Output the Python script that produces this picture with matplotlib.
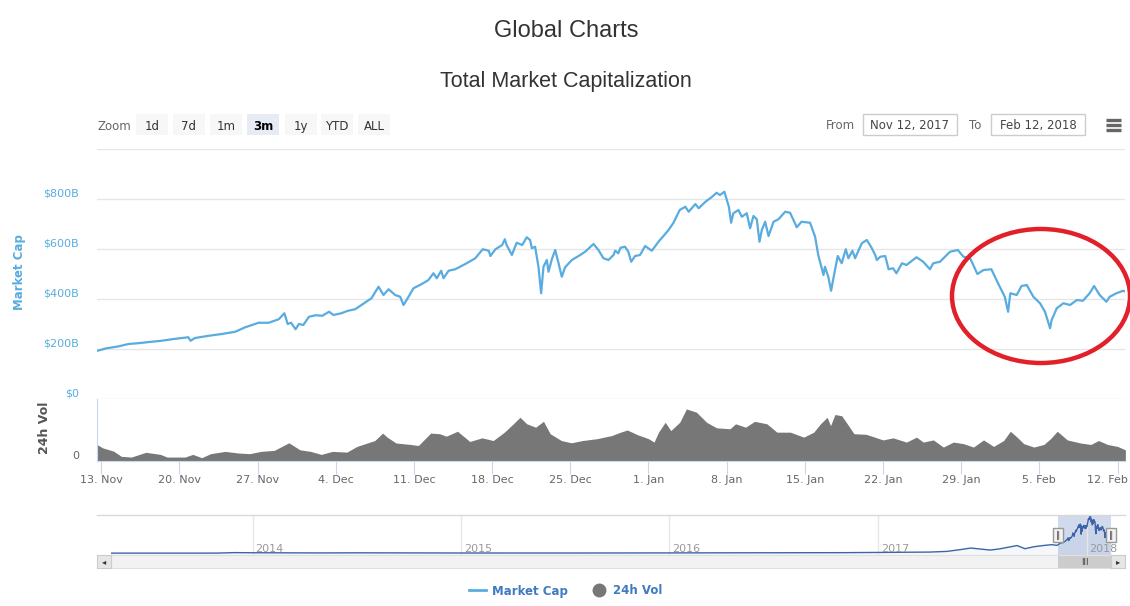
import matplotlib
matplotlib.use("Agg")
import matplotlib.pyplot as plt
import matplotlib.dates as mdates
from matplotlib.patches import Ellipse, Rectangle
from matplotlib.lines import Line2D
from matplotlib.transforms import blended_transform_factory, ScaledTranslation
import numpy as np
import pandas as pd

plt.rcParams["font.family"] = ["DejaVu Sans"]

# --- data ------------------------------------------------------------------
# market cap, $B, x = days since 13 Nov 2017
cap_days = [-0.35, 0.5, 1.5, 2.45, 3.5, 4.5, 5.42, 6.5, 7.8, 8.0,
            8.4, 9.5, 10.8, 12.0, 12.9, 14.1, 15.0, 15.9, 16.4, 16.7,
            17.0, 17.4, 17.7, 18.1, 18.6, 19.2, 19.8, 20.4, 20.8, 21.5,
            22.1, 22.74, 23.3, 24.2, 24.83, 25.28, 25.73, 26.32, 26.77, 27.07,
            27.52, 27.96, 28.71, 29.3, 29.75, 30.05, 30.44, 30.65, 31.1, 31.7,
            32.6, 33.5, 34.16, 34.7, 34.85, 35.3, 35.9, 36.14, 36.3, 36.77,
            37.2, 37.7, 38.1, 38.4, 38.56, 38.85, 39.15, 39.39, 39.6, 39.9,
            40.05, 40.35, 40.65, 40.95, 41.24, 41.54, 42.14, 42.74, 43.33, 44.08,
            44.52, 44.97, 45.42, 45.87, 46.02, 46.3, 46.5, 46.9, 47.2, 47.45,
            47.8, 48.25, 48.7, 49.3, 49.9, 50.8, 51.24, 51.8, 52.3, 52.6,
            53.2, 53.5, 54.1, 54.7, 55.1, 55.4, 55.8, 56.2, 56.4, 56.6,
            57.06, 57.36, 57.8, 58.1, 58.4, 58.7, 58.94, 59.15, 59.45, 59.75,
            60.2, 60.64, 61.24, 61.68, 62.28, 62.7, 63.47, 63.92, 64.2, 64.67,
            64.8, 65.1, 65.35, 65.7, 65.95, 66.3, 66.67, 66.9, 67.26, 67.5,
            68.1, 68.55, 69.0, 69.3, 69.45, 69.75, 70.2, 70.5, 70.9, 71.2,
            71.7, 72.1, 73.0, 73.6, 74.2, 74.5, 75.1, 76.0, 76.7, 77.2,
            77.8, 78.45, 79.0, 79.7, 80.3, 80.9, 81.2, 81.4, 81.97, 82.4,
            82.87, 83.46, 84.06, 84.5, 84.96, 85.1, 85.56, 86.15, 86.75, 87.35,
            87.9, 88.5, 88.9, 89.4, 90.0, 90.3, 90.9, 91.5, 91.67]
cap_vals = [193, 203, 210, 220, 224, 229, 233, 240, 247, 233,
            244, 252, 260, 269, 287, 305, 305, 319, 343, 300,
            305, 279, 300, 296, 329, 335, 333, 349, 336, 343,
            353, 359, 376, 403, 449, 416, 439, 416, 409, 376,
            409, 443, 460, 476, 503, 483, 513, 483, 513, 519,
            540, 563, 599, 593, 572, 599, 616, 639, 616, 576,
            625, 616, 647, 636, 603, 609, 529, 423, 529, 556,
            509, 559, 596, 543, 489, 527, 556, 572, 589, 620,
            596, 563, 556, 576, 593, 583, 605, 609, 589, 549,
            572, 576, 612, 593, 629, 676, 705, 756, 769, 749,
            780, 763, 789, 809, 825, 816, 829, 769, 705, 743,
            756, 729, 743, 683, 732, 719, 629, 676, 709, 652,
            709, 719, 749, 745, 687, 709, 705, 649, 576, 496,
            529, 489, 433, 516, 572, 543, 599, 563, 593, 563,
            623, 636, 603, 576, 556, 569, 572, 519, 523, 503,
            543, 536, 567, 549, 519, 543, 549, 589, 596, 569,
            563, 500, 516, 519, 463, 409, 349, 423, 416, 452,
            456, 409, 383, 349, 283, 316, 363, 383, 376, 396,
            393, 423, 452, 416, 389, 409, 423, 433, 430]

# 24h volume, $B
vol_days = [-0.4, 0.16, 1.1, 1.8, 2.7, 4.0, 5.3, 5.9, 7.5, 8.2,
            9.0, 9.8, 11.1, 12.3, 13.3, 14.3, 15.5, 16.8, 17.8, 18.75,
            19.7, 20.7, 22.0, 22.9, 24.5, 25.2, 25.6, 26.4, 27.7, 28.4,
            29.5, 30.3, 30.9, 31.9, 33.0, 34.1, 35.1, 36.1, 36.9, 37.5,
            38.1, 38.9, 39.6, 40.2, 41.2, 42.1, 43.1, 44.4, 45.7, 46.5,
            47.1, 48.0, 49.0, 49.5, 49.9, 50.5, 51.0, 51.8, 52.4, 53.3,
            54.2, 55.1, 56.3, 56.8, 57.7, 58.5, 59.6, 60.5, 61.7, 62.9,
            63.8, 64.4, 65.0, 65.3, 65.7, 66.3, 66.8, 67.4, 68.5, 70.0,
            70.9, 72.1, 73.0, 73.6, 74.5, 75.4, 76.3, 77.2, 78.1, 79.0,
            79.9, 80.8, 81.4, 82.0, 82.6, 83.5, 84.4, 85.0, 85.6, 86.5,
            87.7, 88.6, 89.3, 90.1, 91.0, 91.7]
vol_vals = [16, 12.6, 9.6, 4.5, 3.8, 8.4, 6.4, 3.8, 3.8, 6.4,
            3.2, 7.1, 9.3, 7.7, 7.1, 9.3, 10.3, 17.6, 10.8, 9.3,
            6.4, 9.3, 8.6, 14.1, 19.8, 27, 23.1, 17.4, 16, 15,
            27, 26.4, 24, 28.8, 18.9, 22.4, 19.8, 27.9, 36, 42.3,
            36, 32.7, 38.4, 26.4, 19.8, 17.6, 19.8, 21.6, 24.6, 27.9,
            30, 25.5, 21.6, 18.3, 27.9, 37.5, 29.4, 37.5, 50.4, 47.2,
            37.5, 32.1, 31.2, 36, 32.7, 38.4, 36, 27.9, 27.9, 23.1,
            27.9, 36, 42.3, 34.2, 45, 43.8, 36, 26.4, 25.8, 20.4,
            22.4, 18.3, 23.1, 18.3, 20.4, 13.5, 18.3, 16.8, 13.5, 20.4,
            14.1, 19.8, 28.8, 23.1, 16.8, 13.5, 16, 21.6, 28.8, 20.4,
            17.4, 16, 19.8, 16, 14.1, 10.8]

# navigator history before the selected range, $B
hist_dates = ["2013-04-28", "2013-06-01", "2013-08-01", "2013-10-01", "2013-11-01",
              "2013-12-01", "2014-01-01", "2014-03-01", "2014-05-01", "2014-07-01",
              "2014-09-01", "2014-11-01", "2015-01-01", "2015-03-01", "2015-05-01",
              "2015-07-01", "2015-09-01", "2015-11-01", "2016-01-01", "2016-03-01",
              "2016-05-01", "2016-07-01", "2016-09-01", "2016-11-01", "2017-01-01",
              "2017-03-01", "2017-04-01", "2017-05-01", "2017-05-25", "2017-06-12",
              "2017-07-16", "2017-08-01", "2017-09-01", "2017-09-15", "2017-10-01",
              "2017-10-20", "2017-11-01", "2017-11-10"]
hist_caps = [1.6, 1.3, 1.2, 1.6, 2.6, 13, 10, 8, 6, 8.5,
             6.5, 4.5, 4.5, 3.6, 3.4, 3.9, 3.7, 5.6, 6.9, 7.5,
             7.8, 11, 10.5, 12, 17.7, 22, 25, 40, 80, 115,
             70, 95, 170, 100, 145, 175, 190, 175]

nav_years = [2014, 2015, 2016, 2017, 2018]
zoom_buttons = ["1d", "7d", "1m", "3m", "1y", "YTD", "ALL"]
selected_button = "3m"
range_from, range_to = "Nov 12, 2017", "Feb 12, 2018"

# --- setup -----------------------------------------------------------------
W, H = 1130, 606
LINE = "#58acdf"
start = pd.Timestamp("2017-11-13")
x0 = pd.Timestamp("2017-11-12 15:00")
x1 = pd.Timestamp("2018-02-12 16:00")

cap_t = start + pd.to_timedelta(np.array(cap_days), unit="D")
vol_t = start + pd.to_timedelta(np.array(vol_days), unit="D")


def box(l, t, r, b):
    return [l / W, 1 - b / H, (r - l) / W, (b - t) / H]


fig = plt.figure(figsize=(W / 100, H / 100), dpi=100)

# main panel
ax = fig.add_axes(box(97, 149, 1125, 399))
ax.plot(cap_t, cap_vals, color=LINE, lw=1.6, solid_joinstyle="round")
ax.set_xlim(x0, x1)
ax.set_ylim(0, 1000)
ax.set_yticks(range(0, 1001, 200))
ax.set_yticklabels(["$0", "$200B", "$400B", "$600B", "$800B", ""])
ax.grid(axis="y", color="#e6e6e6", lw=1)
ax.set_axisbelow(True)
ax.set_xticks([])
for s in ax.spines.values():
    s.set_visible(False)
ax.tick_params(axis="y", length=0, pad=13, labelcolor=LINE, labelsize=8)
for lbl in ax.get_yticklabels():
    lbl.set_verticalalignment("bottom")
fig.text(20 / W, 1 - 272 / H, "Market Cap", rotation=90, ha="center", va="center",
         color=LINE, fontweight="bold", fontsize=8.5)

# volume panel
av = fig.add_axes(box(97, 399, 1125, 461))
av.fill_between(vol_t, vol_vals, color="#777777", lw=0)
av.set_xlim(x0, x1)
av.set_ylim(0, 60)
av.set_yticks([0])
av.set_yticklabels(["0"])
av.tick_params(axis="y", length=0, pad=13, labelcolor="#666666", labelsize=8)
for lbl in av.get_yticklabels():
    lbl.set_verticalalignment("bottom")
av.set_xticks(pd.date_range("2017-11-13", "2018-02-12", freq="7D"))
av.xaxis.set_major_formatter(mdates.DateFormatter("%-d. %b"))
av.tick_params(axis="x", length=9, color="#ccd6eb", labelcolor="#666666",
               labelsize=8, pad=1)
# last label is pushed inside the chart like the original
last = av.get_xticklabels()[-1]
last.set_transform(last.get_transform() + ScaledTranslation(-0.1, 0, fig.dpi_scale_trans))
for side in ["top", "right"]:
    av.spines[side].set_visible(False)
for side in ["left", "bottom"]:
    av.spines[side].set_color("#ccd6eb")
fig.text(44 / W, 1 - 428 / H, "24h Vol", rotation=90, ha="center", va="center",
         color="#555555", fontweight="bold", fontsize=9)

# navigator
nav_t = pd.to_datetime(hist_dates).append(cap_t)
nav_v = list(hist_caps) + list(cap_vals)
an = fig.add_axes(box(111, 515, 1111, 555))
an.plot(nav_t, nav_v, color="#3d64a8", lw=1)
an.fill_between(nav_t, nav_v, -40, color="#3d64a8", alpha=0.05, lw=0)
an.set_xlim(pd.Timestamp("2013-04-28"), x1)
an.set_ylim(-40, 850)
year_t = [pd.Timestamp(f"{y}-01-01") for y in nav_years]
an.set_xticks(year_t)
an.grid(axis="x", color="#e6e6e6", lw=1)
an.tick_params(length=0, labelbottom=False, labelleft=False)
an.set_yticks([])
for s in an.spines.values():
    s.set_visible(False)
for y, t in zip(nav_years, year_t):
    an.annotate(str(y), xy=(mdates.date2num(t), 0), xycoords=("data", "axes fraction"),
                xytext=(2, 1), textcoords="offset points", color="#999999",
                fontsize=8, ha="left", va="bottom")
s0, s1 = mdates.date2num(x0), mdates.date2num(x1)
an.axvspan(s0, s1, color="#6685c2", alpha=0.3, lw=0)
bt = blended_transform_factory(an.transData, an.transAxes)
for s in (s0, s1):
    an.text(s, 0.5, "\u2016", transform=bt, ha="center", va="center", fontsize=6,
            color="#444444", zorder=5,
            bbox=dict(boxstyle="square,pad=0.35", fc="#f2f2f2", ec="#999999", lw=1))
fig.add_artist(Line2D([97 / W, 1125 / W], [1 - 515 / H] * 2, color="#d8d8d8", lw=1))

# scrollbar
asb = fig.add_axes(box(111, 555, 1111, 568))
asb.set_facecolor("#f2f2f2")
asb.set_xlim(an.get_xlim())
asb.axvspan(s0, s1, color="#cccccc", lw=0)
asb.text((s0 + s1) / 2, 0.5, "|||", ha="center", va="center", fontsize=5,
         fontweight="bold", color="#333333",
         transform=blended_transform_factory(asb.transData, asb.transAxes))
asb.set_xticks([])
asb.set_yticks([])
for s in asb.spines.values():
    s.set_color("#e0e0e0")
for (l, r), arrow in [((97, 111), "\u25c2"), ((1111, 1125), "\u25b8")]:
    ab = fig.add_axes(box(l, 555, r, 568))
    ab.set_facecolor("#e6e6e6")
    ab.set_xticks([])
    ab.set_yticks([])
    for s in ab.spines.values():
        s.set_color("#cccccc")
    ab.text(0.5, 0.5, arrow, ha="center", va="center", fontsize=6, color="#333333")

# overlay in pixel coordinates for titles and controls
ui = fig.add_axes([0, 0, 1, 1], zorder=10)
ui.set_xlim(0, W)
ui.set_ylim(H, 0)
ui.axis("off")
ui.patch.set_alpha(0)

ui.text(566, 31, "Global Charts", ha="center", va="center", fontsize=17,
        color="#333333", family="Liberation Sans")
ui.text(566, 81, "Total Market Capitalization", ha="center", va="center",
        fontsize=15.5, color="#333333", family="Liberation Sans")

ui.text(98, 125, "Zoom", ha="left", va="center_baseline", fontsize=8.5, color="#666666")
btn_left = [136, 173, 210, 247, 285, 321, 358]
for lab, bx in zip(zoom_buttons, btn_left):
    sel = lab == selected_button
    ui.add_patch(Rectangle((bx, 114), 32, 21, fc="#e6ebf5" if sel else "#f7f7f7", ec="none"))
    ui.text(bx + 16, 125, lab, ha="center", va="center_baseline", fontsize=8.5,
            color="#000000" if sel else "#333333", fontweight="bold" if sel else "normal")

ui.text(826, 124, "From", ha="left", va="center_baseline", fontsize=8.5, color="#666666")
ui.add_patch(Rectangle((863, 114), 94, 21, fc="white", ec="#cccccc", lw=1))
ui.text(910, 124, range_from, ha="center", va="center_baseline", fontsize=8.5, color="#444444")
ui.text(969, 124, "To", ha="left", va="center_baseline", fontsize=8.5, color="#666666")
ui.add_patch(Rectangle((991, 114), 94, 21, fc="white", ec="#cccccc", lw=1))
ui.text(1038, 124, range_to, ha="center", va="center_baseline", fontsize=8.5, color="#444444")
for yy in (120, 125, 130):
    ui.plot([1106, 1121], [yy, yy], color="#666666", lw=2.4, solid_capstyle="butt")

# red annotation ellipse
ui.add_patch(Ellipse((1041, 296), 178, 134, fill=False, ec="#e2202a", lw=3.2))

# legend
handles = [Line2D([], [], color=LINE, lw=2),
           Line2D([], [], color="#777777", marker="o", ls="", ms=9)]
fig.legend(handles, ["Market Cap", "24h Vol"], loc="center",
           bbox_to_anchor=(566 / W, 1 - 591 / H), ncol=2, frameon=False,
           prop=dict(weight="bold", size=8.5), labelcolor="#3f7bc1",
           handlelength=1.4, handletextpad=0.5, columnspacing=2.0)

fig.savefig("out.png", dpi=100)
